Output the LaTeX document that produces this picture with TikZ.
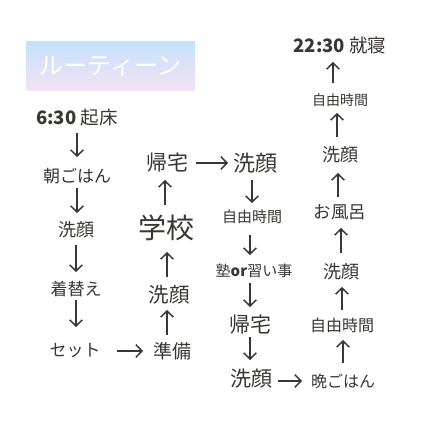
\documentclass[tikz,border=0pt]{standalone}
\usepackage{fontspec}
\setmainfont{Noto Sans CJK JP}
\usetikzlibrary{arrows.meta}
\definecolor{ink}{HTML}{3A3634}
\definecolor{topblue}{HTML}{C4E2FB}
\definecolor{botpink}{HTML}{F5E2F4}
\newcommand\fs[1]{\fontsize{#1pt}{#1pt}\selectfont}
\newcommand\varr[5]{\draw[arr, shorten <=#4pt, shorten >=#5pt] ([xshift=#3pt]#1.center) -- ([xshift=#3pt]#1.center |- #2.center);}
\tikzset{
  lbl/.style={inner sep=0pt, text=ink},
  arr/.style={draw=ink, line width=1.5pt, -{Straight Barb[length=6pt,width=12.5pt,line width=1.5pt]}},
}
\begin{document}
\begin{tikzpicture}[x=1pt,y=-1pt]
\fill[white] (0,0) rectangle (430,430);
\useasboundingbox (0,0) rectangle (430,430);
\node[shade, top color=topblue, bottom color=botpink, minimum width=169pt, minimum height=49pt, inner sep=0pt, text=white] (title) at (110.5,66.5) {\fs{24}ルーティーン};
% column 1
\node[lbl] (wake) at (77,118) {\fs{18.5}\bfseries 6:30 \mdseries 起床};
\node[lbl] (asa) at (77,176) {\fs{17}朝ごはん};
\node[lbl] (sen1) at (76,230) {\fs{18}洗顔};
\node[lbl] (kigae) at (76,289) {\fs{17}着替え};
\node[lbl] (set) at (75,351) {\fs{17}セット};
% column 2
\node[lbl] (jun) at (172,351) {\fs{19}準備};
\node[lbl] (sen2) at (169,295) {\fs{20.5}洗顔};
\node[lbl] (gakko) at (166,228) {\fs{28}学校};
\node[lbl] (kitaku1) at (167,163) {\fs{21}帰宅};
% column 3
\node[lbl] (sen3) at (255,163) {\fs{22}洗顔};
\node[lbl] (jiyu1) at (252,217) {\fs{15}自由時間};
\node[lbl] (juku) at (254,271) {\fs{15}塾\bfseries or\mdseries 習い事};
\node[lbl] (kitaku2) at (250,325) {\fs{21}帰宅};
\node[lbl] (sen4) at (251,379) {\fs{21}洗顔};
% column 4
\node[lbl] (ban) at (343,381) {\fs{16}晩ごはん};
\node[lbl] (jiyu2) at (342,325) {\fs{16}自由時間};
\node[lbl] (sen5) at (341,272) {\fs{18}洗顔};
\node[lbl] (furo) at (340,212) {\fs{17.5}お風呂};
\node[lbl] (sen6) at (340,155) {\fs{18}洗顔};
\node[lbl] (jiyu3) at (340,100) {\fs{14}自由時間};
\node[lbl] (sleep) at (340,45) {\fs{18.5}\bfseries 22:30 \mdseries 就寝};
% arrows
\varr{wake}{asa}{0}{15}{19}
\varr{asa}{sen1}{0}{12}{17}
\varr{sen1}{kigae}{0}{15}{17}
\varr{kigae}{set}{0}{11}{24}
\draw[arr, shorten <=42pt, shorten >=29pt] (set.center) -- (jun.center);
\varr{jun}{sen2}{-5}{16}{15}
\varr{sen2}{gakko}{-2}{18}{24}
\varr{gakko}{kitaku1}{-1}{23}{17}
\draw[arr, shorten <=29pt, shorten >=27pt] (kitaku1.center) -- (sen3.center);
\varr{sen3}{jiyu1}{-3}{17}{14}
\varr{jiyu1}{juku}{-2}{18}{16}
\varr{juku}{kitaku2}{-4}{12}{18}
\varr{kitaku2}{sen4}{0}{12}{19}
\draw[arr, shorten <=27pt, shorten >=41pt] (sen4.center |- ban.center) -- (ban.center);
\varr{ban}{jiyu2}{0}{18}{15}
\varr{jiyu2}{sen5}{0}{15}{15}
\varr{sen5}{furo}{0}{19}{16}
\varr{furo}{sen6}{-2}{15}{18}
\varr{sen6}{jiyu3}{-3}{18}{13}
\varr{jiyu3}{sleep}{-7}{17}{17}
\end{tikzpicture}
\end{document}
